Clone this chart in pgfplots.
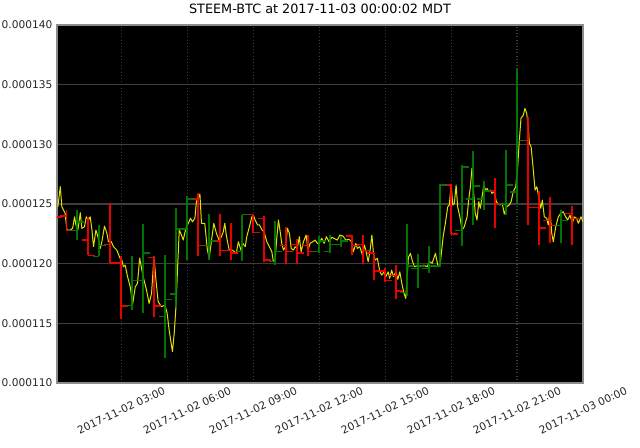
\documentclass[border=0pt]{standalone}
\usepackage{fontspec}
\setmainfont{DejaVu Sans}
\usepackage{pgfplots}
\usepackage{pgfplotstable}
\pgfplotsset{compat=1.18}
\definecolor{pxyellow}{RGB}{225,225,0}
\definecolor{pxgreen}{RGB}{0,128,0}
\definecolor{pxred}{RGB}{255,0,0}
\definecolor{gridgray}{RGB}{62,62,62}
\definecolor{framegray}{RGB}{140,140,140}

% 30-minute OHLC bars, h = hours after 2017-11-02 00:00
\pgfplotstableread{
h O H L C
0.0 124.5e-6 124.6e-6 123.9e-6 123.9e-6
0.5 124.0e-6 124.5e-6 122.8e-6 122.8e-6
1.5 122.0e-6 123.9e-6 120.7e-6 120.7e-6
2.5 121.6e-6 125.1e-6 120.05e-6 120.05e-6
3.0 120.05e-6 120.6e-6 115.4e-6 116.45e-6
4.5 120.5e-6 120.55e-6 115.5e-6 116.45e-6
6.5 125.4e-6 125.9e-6 120.6e-6 121.5e-6
7.5 121.9e-6 124.2e-6 120.6e-6 121.1e-6
8.0 121.1e-6 123.4e-6 120.3e-6 120.9e-6
9.0 124.1e-6 124.1e-6 122.6e-6 122.6e-6
9.5 123.8e-6 124.0e-6 120.1e-6 120.3e-6
10.5 121.5e-6 123.1e-6 120.0e-6 121.0e-6
11.0 121.6e-6 122.1e-6 120.0e-6 120.9e-6
11.5 121.5e-6 122.4e-6 120.6e-6 121.0e-6
13.5 122.3e-6 122.4e-6 120.7e-6 121.5e-6
14.0 121.6e-6 122.4e-6 120.0e-6 121.1e-6
14.5 120.9e-6 120.9e-6 118.6e-6 119.4e-6
15.0 119.4e-6 119.6e-6 118.5e-6 118.6e-6
15.5 119.0e-6 119.9e-6 117.0e-6 117.7e-6
18.0 126.6e-6 126.7e-6 122.45e-6 122.5e-6
20.0 126.1e-6 127.2e-6 123.0e-6 125.0e-6
21.5 130.3e-6 132.3e-6 123.2e-6 124.7e-6
22.0 124.7e-6 126.1e-6 121.6e-6 123.0e-6
22.5 123.6e-6 125.6e-6 121.75e-6 123.2e-6
23.5 124.2e-6 124.8e-6 121.6e-6 123.8e-6
}\redbars

\pgfplotstableread{
h O H L C
1.0 122.8e-6 124.5e-6 122.0e-6 123.5e-6
2.0 120.6e-6 123.2e-6 120.6e-6 121.5e-6
3.5 116.5e-6 120.6e-6 116.1e-6 118.6e-6
4.0 118.6e-6 123.3e-6 115.85e-6 120.9e-6
5.0 115.55e-6 120.7e-6 112.1e-6 117.0e-6
5.5 117.45e-6 124.7e-6 116.4e-6 122.9e-6
6.0 122.9e-6 125.7e-6 120.3e-6 125.4e-6
7.0 121.5e-6 124.2e-6 120.3e-6 121.9e-6
8.5 121.0e-6 124.1e-6 120.2e-6 124.1e-6
10.0 120.2e-6 123.6e-6 119.9e-6 121.0e-6
12.0 121.0e-6 122.3e-6 120.9e-6 121.9e-6
12.5 121.0e-6 122.4e-6 120.9e-6 121.6e-6
13.0 121.6e-6 122.3e-6 121.4e-6 121.9e-6
16.0 117.6e-6 123.3e-6 117.3e-6 119.8e-6
16.5 119.6e-6 120.8e-6 118.0e-6 119.8e-6
17.0 119.6e-6 121.5e-6 119.2e-6 119.8e-6
17.5 119.8e-6 126.7e-6 119.7e-6 126.6e-6
18.5 122.8e-6 128.3e-6 121.5e-6 128.1e-6
19.0 125.4e-6 129.4e-6 123.2e-6 126.5e-6
19.5 125.4e-6 126.9e-6 124.5e-6 126.1e-6
20.5 125.0e-6 129.5e-6 124.1e-6 126.6e-6
21.0 126.0e-6 136.3e-6 125.0e-6 130.3e-6
23.0 123.2e-6 124.5e-6 121.75e-6 123.6e-6
}\greenbars

% price line
\pgfplotstableread{
h v
0.12 124.77e-6
0.23 126.45e-6
0.30 124.77e-6
0.38 124.49e-6
0.45 124.22e-6
0.53 122.82e-6
0.68 122.82e-6
0.79 122.96e-6
0.88 123.93e-6
0.94 123.24e-6
1.03 122.82e-6
1.14 124.27e-6
1.21 122.96e-6
1.33 123.09e-6
1.41 123.93e-6
1.51 123.66e-6
1.59 123.93e-6
1.67 122.82e-6
1.74 121.42e-6
1.85 122.82e-6
1.94 122.26e-6
2.05 121.28e-6
2.12 121.84e-6
2.24 123.15e-6
2.35 122.54e-6
2.42 121.84e-6
2.55 121.84e-6
2.65 121.42e-6
2.80 121.14e-6
2.95 120.44e-6
3.03 120.30e-6
3.10 119.74e-6
3.18 119.88e-6
3.29 118.90e-6
3.41 118.06e-6
3.52 116.61e-6
3.64 118.06e-6
3.74 118.35e-6
3.84 120.47e-6
3.94 119.46e-6
4.00 118.90e-6
4.15 117.79e-6
4.27 116.67e-6
4.38 117.51e-6
4.49 120.58e-6
4.58 118.63e-6
4.68 116.81e-6
4.83 116.39e-6
4.99 116.53e-6
5.09 115.83e-6
5.18 114.43e-6
5.33 112.62e-6
5.41 114.16e-6
5.49 116.39e-6
5.56 119.46e-6
5.64 122.82e-6
5.74 122.40e-6
5.82 121.98e-6
5.94 122.96e-6
6.05 123.38e-6
6.15 123.80e-6
6.24 123.51e-6
6.35 123.80e-6
6.42 125.19e-6
6.50 125.47e-6
6.58 125.83e-6
6.65 123.38e-6
6.80 123.38e-6
6.91 121.28e-6
7.00 120.44e-6
7.10 121.84e-6
7.21 123.38e-6
7.33 122.54e-6
7.45 121.98e-6
7.56 122.26e-6
7.64 122.67e-6
7.71 123.38e-6
7.79 122.26e-6
7.91 121.14e-6
8.06 121.14e-6
8.23 120.86e-6
8.33 121.84e-6
8.44 121.14e-6
8.53 121.70e-6
8.64 121.42e-6
8.71 122.26e-6
8.83 123.09e-6
8.94 123.93e-6
9.01 124.07e-6
9.09 123.66e-6
9.20 123.24e-6
9.29 123.24e-6
9.40 122.82e-6
9.50 122.67e-6
9.62 121.84e-6
9.74 121.42e-6
9.85 121.00e-6
9.92 120.16e-6
10.00 120.30e-6
10.08 122.26e-6
10.15 123.66e-6
10.23 122.67e-6
10.30 121.70e-6
10.38 121.14e-6
10.47 121.42e-6
10.56 122.96e-6
10.65 122.54e-6
10.73 121.28e-6
10.83 121.14e-6
10.91 121.42e-6
11.01 121.28e-6
11.10 122.26e-6
11.18 121.00e-6
11.29 121.84e-6
11.41 122.40e-6
11.49 121.14e-6
11.59 121.70e-6
11.71 121.84e-6
11.82 121.98e-6
11.92 121.70e-6
12.00 121.70e-6
12.12 122.12e-6
12.23 121.70e-6
12.33 122.26e-6
12.45 121.84e-6
12.58 122.21e-6
12.68 122.12e-6
12.83 121.98e-6
12.94 122.40e-6
13.09 122.31e-6
13.21 121.98e-6
13.36 122.04e-6
13.47 121.84e-6
13.56 121.00e-6
13.67 121.70e-6
13.74 121.28e-6
13.85 121.42e-6
13.97 120.72e-6
14.06 121.56e-6
14.12 121.14e-6
14.23 120.16e-6
14.32 121.14e-6
14.40 122.40e-6
14.47 120.86e-6
14.55 120.30e-6
14.65 120.44e-6
14.76 119.32e-6
14.85 119.04e-6
14.95 119.32e-6
15.03 118.90e-6
15.14 119.32e-6
15.21 118.77e-6
15.30 119.46e-6
15.38 118.90e-6
15.49 119.32e-6
15.58 118.68e-6
15.67 119.32e-6
15.76 118.35e-6
15.86 117.51e-6
15.94 117.09e-6
16.06 120.53e-6
16.15 120.86e-6
16.23 120.30e-6
16.33 119.74e-6
16.45 119.82e-6
16.60 119.74e-6
16.76 119.88e-6
16.91 119.74e-6
17.03 120.16e-6
17.14 120.03e-6
17.29 120.86e-6
17.41 119.74e-6
17.51 120.03e-6
17.64 122.26e-6
17.74 123.38e-6
17.85 124.77e-6
17.92 124.91e-6
18.00 126.59e-6
18.08 124.91e-6
18.15 125.05e-6
18.23 126.59e-6
18.30 124.77e-6
18.40 123.93e-6
18.50 122.82e-6
18.60 123.09e-6
18.73 123.93e-6
18.80 125.33e-6
18.88 126.45e-6
18.95 127.99e-6
19.03 125.89e-6
19.10 124.22e-6
19.18 123.66e-6
19.26 125.19e-6
19.33 124.64e-6
19.41 125.61e-6
19.49 126.59e-6
19.56 126.17e-6
19.64 126.31e-6
19.71 126.03e-6
19.79 126.17e-6
19.86 125.89e-6
19.97 126.03e-6
20.06 125.19e-6
20.12 125.05e-6
20.23 124.91e-6
20.33 125.05e-6
20.42 124.16e-6
20.53 124.77e-6
20.64 124.91e-6
20.73 125.19e-6
20.83 126.03e-6
20.94 126.45e-6
21.03 128.12e-6
21.10 130.22e-6
21.18 132.18e-6
21.29 132.46e-6
21.36 133.02e-6
21.44 132.60e-6
21.51 131.48e-6
21.56 130.08e-6
21.64 129.80e-6
21.74 127.85e-6
21.82 126.17e-6
21.90 126.45e-6
21.97 125.75e-6
22.08 124.64e-6
22.15 125.33e-6
22.24 123.93e-6
22.35 123.80e-6
22.42 123.24e-6
22.50 124.49e-6
22.58 122.54e-6
22.65 121.84e-6
22.76 123.09e-6
22.88 123.93e-6
22.99 124.22e-6
23.10 124.35e-6
23.21 123.93e-6
23.30 123.66e-6
23.41 124.07e-6
23.51 123.38e-6
23.60 123.93e-6
23.71 123.80e-6
23.79 123.38e-6
23.91 123.93e-6
24.00 123.51e-6
}\price

\begin{document}
\begin{tikzpicture}
\begin{axis}[
    at={(0,0)}, anchor=south west,
    scale only axis, width=394.5pt, height=268.5pt,
    xmin=0.08, xmax=24, ymin=110e-6, ymax=140e-6,
    axis background/.style={fill=black},
    axis line style={framegray, line width=0.8pt},
    xtick={3,6,...,24},
    xticklabels={2017-11-02 03:00,2017-11-02 06:00,2017-11-02 09:00,2017-11-02 12:00,2017-11-02 15:00,2017-11-02 18:00,2017-11-02 21:00,2017-11-03 00:00},
    ytick={110e-6,115e-6,120e-6,125e-6,130e-6,135e-6,140e-6},
    yticklabels={0.000110,0.000115,0.000120,0.000125,0.000130,0.000135,0.000140},
    scaled y ticks=false,
    xmajorgrids, ymajorgrids,
    x grid style={gridgray, line width=0.8pt, dash pattern=on 0.8pt off 1.6pt},
    y grid style={gridgray, line width=1pt},
    major tick length=0pt,
    tick label style={font=\fontsize{7.95}{9}\selectfont, text=black!85},
    xticklabel style={yshift=-20.6pt, rotate=25, anchor=center},
    title={STEEM-BTC at 2017-11-03 00:00:02 MDT},
    title style={font=\fontsize{9.6}{11}\selectfont, yshift=-0.7pt},
]
\addplot[pxyellow, line width=0.75pt, line join=round] table[x=h, y=v] {\price};

\addplot[pxred, line width=1.1pt, opacity=0.9, quiver={u=0, v=\thisrow{H}-\thisrow{L}}] table[x=h, y=L] {\redbars};
\addplot[pxred, line width=1.1pt, opacity=0.9, quiver={u=-0.3, v=0}] table[x=h, y=O] {\redbars};
\addplot[pxred, line width=1.1pt, opacity=0.9, quiver={u=0.3, v=0}] table[x=h, y=C] {\redbars};

\addplot[pxgreen, line width=1.1pt, opacity=0.9, quiver={u=0, v=\thisrow{H}-\thisrow{L}}] table[x=h, y=L] {\greenbars};
\addplot[pxgreen, line width=1.1pt, opacity=0.9, quiver={u=-0.3, v=0}] table[x=h, y=O] {\greenbars};
\addplot[pxgreen, line width=1.1pt, opacity=0.9, quiver={u=0.3, v=0}] table[x=h, y=C] {\greenbars};
\end{axis}
\pgfresetboundingbox
\path[use as bounding box] (-42.75pt,-48.75pt) rectangle (437.25pt,287.25pt);
\end{tikzpicture}
\end{document}
